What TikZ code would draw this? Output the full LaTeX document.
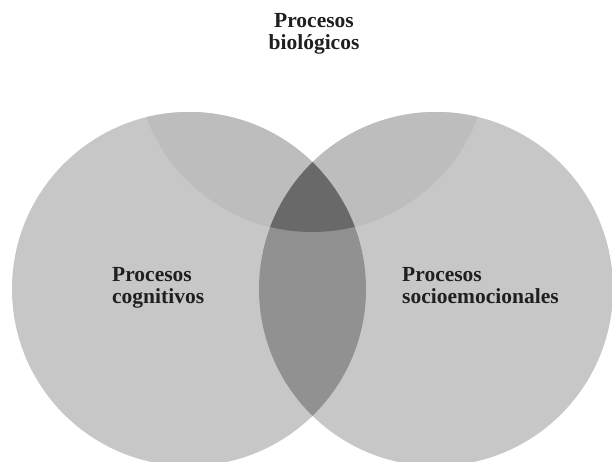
\documentclass[tikz,border=0pt]{standalone}
\usepackage{fontspec}
\setmainfont{Liberation Serif}
\definecolor{circfill}{gray}{0.78}
\definecolor{topover}{gray}{0.74}
\definecolor{lensfill}{gray}{0.57}
\definecolor{triplefill}{gray}{0.41}
\tikzset{
  lbl/.style={font=\bfseries\fontsize{21.5}{22}\selectfont, inner sep=0pt, text=black!88}
}
\begin{document}
\begin{tikzpicture}[x=1pt,y=-1pt]
\fill[white] (0,0) rectangle (612,462);
\useasboundingbox (0,0) rectangle (612,462);
\coordinate (cT) at (312,55);
\coordinate (cL) at (189,289);
\coordinate (cR) at (436,289);
\def\rad{177pt}
% base circles
\fill[circfill] (cL) circle[radius=\rad];
\fill[circfill] (cR) circle[radius=\rad];
% top overlaps
\begin{scope}
  \clip (cT) circle[radius=\rad];
  \fill[topover] (cL) circle[radius=\rad];
  \fill[topover] (cR) circle[radius=\rad];
\end{scope}
% lens
\begin{scope}
  \clip (cL) circle[radius=\rad];
  \fill[lensfill] (cR) circle[radius=\rad];
\end{scope}
% triple
\begin{scope}
  \clip (cL) circle[radius=\rad];
  \clip (cT) circle[radius=\rad];
  \fill[triplefill] (cR) circle[radius=\rad];
\end{scope}
% labels
\node[lbl, align=center, anchor=base] (bio) at (314,50) {Procesos\\biológicos};
\node[lbl, align=left, anchor=base west] (cog) at (112,303) {Procesos\\cognitivos};
\node[lbl, align=left, anchor=base west] (soc) at (402,303) {Procesos\\socioemocionales};
\end{tikzpicture}
\end{document}
